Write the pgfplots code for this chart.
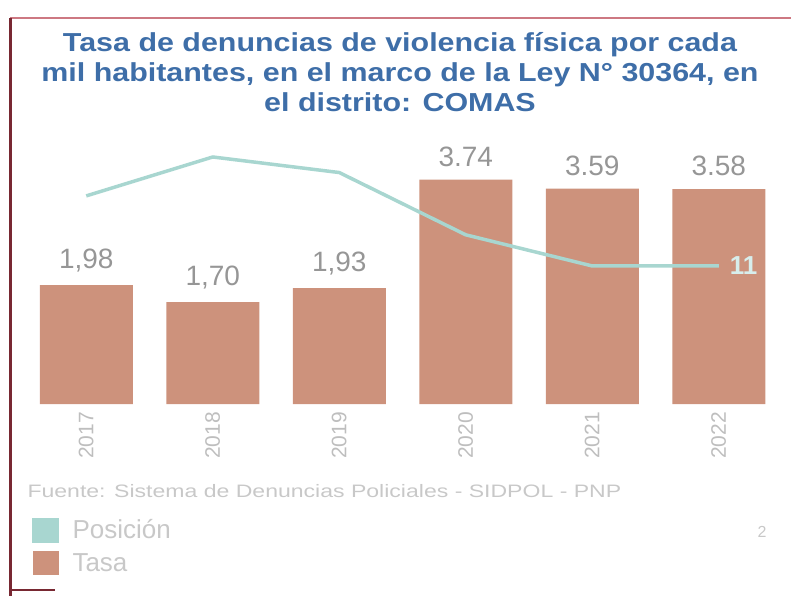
\documentclass[border=0pt]{standalone}
\usepackage{fontspec}
\setmainfont{Liberation Sans}
\usepackage{pgfplots}
\pgfplotsset{compat=1.18}

\definecolor{barc}{RGB}{205,146,124}
\definecolor{linec}{RGB}{168,214,208}
\definecolor{elevc}{RGB}{215,238,236}
\definecolor{labc}{RGB}{150,150,150}
\definecolor{yearc}{RGB}{190,190,190}
\definecolor{notec}{RGB}{200,200,200}
\definecolor{titlec}{RGB}{62,110,168}
\definecolor{frametop}{RGB}{205,120,130}
\definecolor{frameleft}{RGB}{120,40,50}

\begin{document}
\begin{tikzpicture}
\useasboundingbox (0pt,0pt) rectangle (791pt,-596pt);
% frame
\draw[frametop, line width=2pt] (10pt,-18pt) -- (791pt,-18pt);
\draw[frameleft, line width=3pt] (10pt,-18pt) -- (10pt,-596pt);
\draw[frameleft, line width=2pt] (10pt,-590pt) -- (55pt,-590pt);

\node[anchor=north, align=center, text=titlec, inner sep=0pt, xscale=1.17,
      font=\bfseries\fontsize{26}{30}\selectfont] at (400pt,-32pt)
  {Tasa de denuncias de violencia física por cada\\
   mil habitantes, en el marco de la Ley N° 30364, en\\
   el distrito: COMAS};

\begin{axis}[
    at={(23pt,-404pt)}, anchor=south west,
    scale only axis, width=759pt, height=264pt,
    xmin=-0.5, xmax=5.5, ymin=0, ymax=4.4,
    ybar, bar width=93pt,
    axis line style={draw=none},
    major tick length=0pt,
    ytick=\empty,
    xtick=data,
    xticklabels={2017,2018,2019,2020,2021,2022},
    xticklabel style={rotate=90, anchor=east, text=yearc,
        font=\fontsize{21}{21}\selectfont, inner sep=0pt, xshift=-8pt},
    nodes near coords,
    point meta=explicit symbolic,
    every node near coord/.append style={text=labc,
        font=\fontsize{28}{28}\selectfont, inner sep=0pt, yshift=13pt},
    legend style={at={(axis description cs:0.012,-0.43)}, anchor=north west,
        draw=none, fill=none, inner sep=0pt, row sep=9pt,
        font=\fontsize{26}{26}\selectfont, text=notec,
        nodes={inner sep=0pt}},
    legend cell align=left,
]
\addlegendimage{legend image code/.code={%
    \fill[linec] (0pt,-12pt) rectangle (26pt,12pt);
    \path[draw=none, fill=none] (0pt,0pt) -- (40pt,0pt);}}
\addlegendentry{Posición}
\addplot[fill=barc, draw=none,
    legend image code/.code={%
    \fill[barc] (0pt,-12pt) rectangle (26pt,12pt);
    \path[draw=none, fill=none] (0pt,0pt) -- (40pt,0pt);}]
  table[meta=lab] {
x y lab
0 1.98 1,98
1 1.70 1,70
2 1.93 1,93
3 3.74 3.74
4 3.59 3.59
5 3.58 3.58
};
\addlegendentry{Tasa}
\end{axis}

\begin{axis}[
    at={(23pt,-404pt)}, anchor=south west,
    scale only axis, width=759pt, height=264pt,
    xmin=-0.5, xmax=5.5, ymin=-6.73, ymax=27.18,
    hide axis,
]
\addplot[linec, line width=3.5pt, line join=round] coordinates {
    (0,20) (1,25) (2,23) (3,15) (4,11) (5,11)
};
\node[anchor=west, text=elevc, font=\bfseries\fontsize{26}{26}\selectfont,
      inner sep=0pt] at (axis cs:5,11) {\hspace{11pt}11};
\end{axis}

\node[anchor=base west, text=notec, xscale=1.28,
      font=\fontsize{18}{18}\selectfont] at (23pt,-497pt)
  {Fuente: Sistema de Denuncias Policiales - SIDPOL - PNP};
\node[anchor=base, text=notec, font=\fontsize{16}{16}\selectfont]
  at (762pt,-537pt) {2};
\end{tikzpicture}
\end{document}
